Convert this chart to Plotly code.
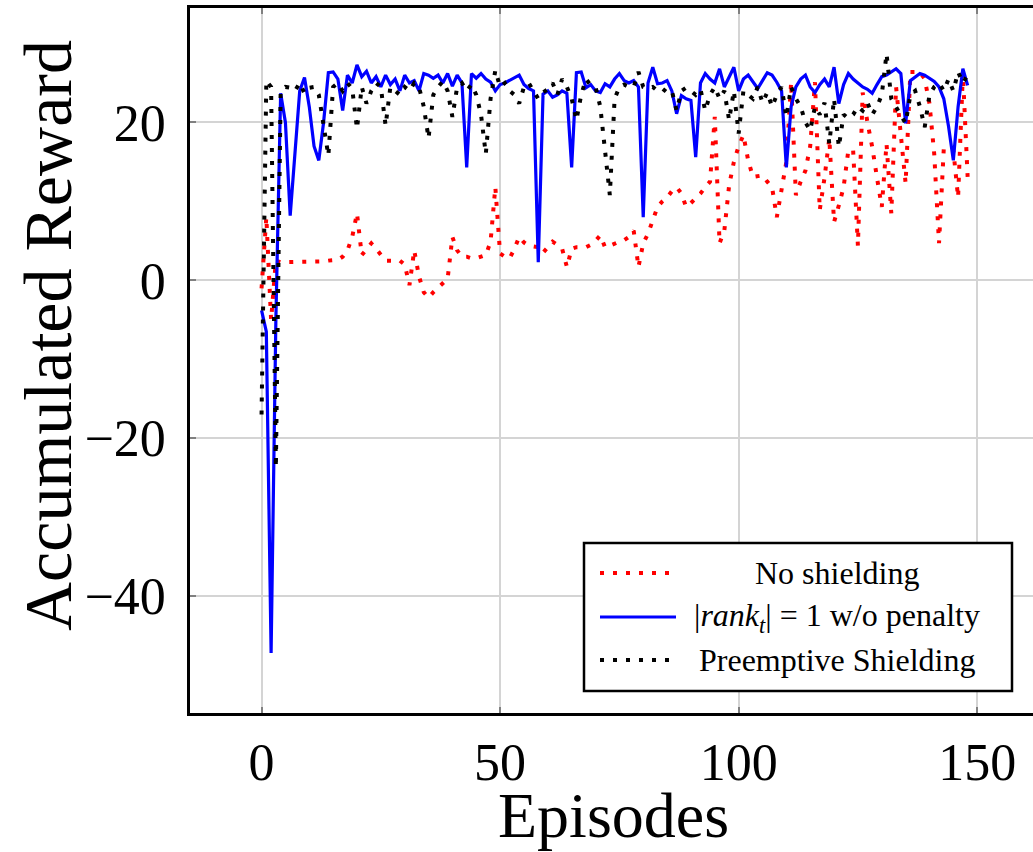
import plotly.graph_objects as go

episodes = list(range(149))

no_shielding = [
    -1.0, 8.0, -5.0, 2.5, 2.3, 2.3, 2.3, 2.3, 2.3, 2.4,
    2.3, 2.4, 2.3, 2.4, 2.5, 2.6, 2.6, 3.0, 3.8, 5.5,
    8.5, 3.2, 4.0, 4.7, 4.0, 3.2, 2.5, 2.5, 2.5, 2.5,
    2.0, -0.6, 3.8, 0.5, -1.5, -2.2, -1.5, -0.9, -0.3, 0.2,
    5.5, 3.8, 3.0, 3.0, 2.8, 2.8, 3.0, 3.2, 4.9, 11.8,
    3.4, 3.0, 2.8, 4.0, 5.5, 4.8, 4.4, 4.3, 4.2, 3.5,
    4.2, 4.9, 4.5, 4.0, 1.7, 4.0, 4.2, 4.2, 4.2, 4.5,
    5.0, 5.7, 4.2, 4.4, 4.7, 4.9, 5.1, 5.5, 6.3, 1.7,
    4.7, 5.9, 7.6, 9.3, 10.0, 10.5, 11.3, 11.8, 11.0, 9.3,
    9.8, 10.4, 11.0, 11.8, 12.5, 20.7, 4.7, 6.3, 12.0, 15.0,
    17.0, 18.4, 15.2, 13.1, 13.2, 13.3, 12.5, 11.8, 8.0, 11.4,
    15.0, 25.1, 10.8, 12.5, 13.9, 17.0, 25.1, 8.9, 13.0, 18.0,
    7.4, 9.5, 11.8, 16.5, 16.5, 4.4, 23.8, 20.0, 16.9, 13.0,
    9.3, 17.3, 8.5, 24.5, 18.0, 12.3, 26.4, 26.4, 26.4, 25.5,
    22.4, 16.0, 4.7, 16.7, 16.5, 16.5, 10.5, 26.2, 13.1,
]

rank_no_penalty = [
    -3.8, -6.5, -47.2, -5.0, 23.7, 20.0, 8.2, 16.0, 24.0, 25.7,
    22.0, 17.0, 15.2, 20.0, 26.3, 26.4, 25.5, 21.5, 26.0, 25.0,
    27.3, 25.8, 26.5, 25.0, 25.8, 24.5, 26.0, 24.8, 25.5, 24.0,
    26.0, 25.0, 25.3, 24.0, 26.2, 26.0, 25.6, 26.0, 25.0, 26.2,
    24.6, 26.0, 25.0, 14.3, 26.2, 25.6, 26.2, 25.5, 25.1, 24.0,
    24.8, 25.0, 25.3, 25.7, 26.0, 24.8, 24.3, 24.0, 2.3, 23.6,
    24.0, 23.2, 23.5, 24.0, 23.7, 14.3, 26.3, 26.4, 24.4, 24.8,
    24.0, 23.8, 24.9, 24.5, 25.5, 26.2, 25.3, 25.0, 25.3, 24.5,
    8.0, 25.0, 27.0, 24.9, 25.0, 25.3, 24.0, 21.1, 23.4, 23.0,
    22.8, 15.6, 25.0, 26.2, 25.5, 25.0, 26.8, 24.5, 25.8, 27.0,
    24.0, 25.5, 26.0, 25.2, 24.3, 25.3, 26.3, 26.0, 25.1, 24.0,
    14.3, 22.0, 24.5, 25.5, 26.0, 24.5, 23.8, 24.8, 25.5, 24.5,
    27.0, 22.4, 24.8, 26.2, 25.5, 25.0, 24.5, 24.2, 23.7, 24.8,
    25.8, 26.0, 26.4, 26.8, 26.2, 19.9, 25.3, 25.8, 26.2, 26.0,
    25.6, 25.2, 24.5, 23.0, 19.5, 15.2, 22.0, 26.8, 24.7,
]

preemptive = [
    -17.0, 25.3, 24.5, -23.7, 24.0, 24.5, 24.4, 24.0, 25.0, 23.7,
    24.4, 24.5, 23.5, 20.0, 15.8, 24.5, 25.0, 24.0, 25.0, 24.3,
    19.2, 24.5, 22.4, 24.0, 25.0, 24.5, 19.6, 24.5, 24.0, 23.5,
    24.5, 24.0, 25.0, 24.5, 22.0, 18.0, 23.5, 24.5, 25.2, 24.0,
    20.7, 24.5, 25.0, 24.0, 24.8, 23.5, 21.0, 16.0, 23.0, 26.6,
    24.5, 25.0, 24.0, 23.5, 22.4, 24.5, 25.0, 24.0, 23.0, 23.8,
    24.2, 25.0, 23.5, 25.5, 24.5, 23.0, 20.3, 23.5, 25.5, 24.7,
    24.5, 22.0, 16.0, 10.8, 23.0, 24.5, 24.8, 24.5, 24.5, 26.4,
    24.5, 24.3, 24.5, 24.0, 24.3, 23.8, 24.0, 21.5, 24.0, 24.4,
    24.0, 23.5, 24.2, 21.5, 23.5, 24.5, 23.0, 24.0, 20.3, 24.0,
    18.6, 24.0, 23.5, 23.0, 24.5, 22.5, 23.8, 22.0, 23.5, 24.5,
    20.7, 24.5, 23.0, 22.0, 20.0, 19.0, 22.0, 21.0, 22.5, 17.3,
    23.0, 16.9, 21.0, 20.5, 21.0, 22.0, 21.5, 22.5, 21.0, 22.0,
    23.5, 28.7, 23.0, 22.0, 21.0, 19.9, 23.5, 24.0, 22.0, 19.4,
    23.5, 24.5, 25.0, 24.0, 25.5, 24.0, 26.4, 25.0, 26.0,
]

series_names = ["No shielding",
                "|<i>rank</i><sub><i>t</i></sub>| = 1 w/o penalty",
                "Preemptive Shielding"]
x_ticks = [0, 50, 100, 150]
y_ticks = [-40, -20, 0, 20]

FONT = "Liberation Serif, Times New Roman, serif"
DOT = "4px,9px"

fig = go.Figure()
fig.add_trace(go.Scatter(x=episodes, y=no_shielding, mode="lines",
                         line=dict(color="#ff0000", width=4, dash=DOT),
                         showlegend=False))
fig.add_trace(go.Scatter(x=episodes, y=rank_no_penalty, mode="lines",
                         line=dict(color="#0000ff", width=3.2),
                         showlegend=False))
fig.add_trace(go.Scatter(x=episodes, y=preemptive, mode="lines",
                         line=dict(color="#000000", width=4, dash=DOT),
                         showlegend=False))

W, H = 1033, 852
L, T, B = 190, 8, 139
pw, ph = W - L, H - T - B


def px(xp):
    return (xp - L) / pw


def py(yp):
    return (H - B - yp) / ph


# custom legend (centered text like the original)
shapes = [dict(type="rect", xref="paper", yref="paper",
               x0=px(584), x1=px(1012), y0=py(691), y1=py(543),
               line=dict(color="black", width=2.5), fillcolor="white", layer="above")]
rows = [573, 617, 660]
styles = [dict(color="#ff0000", width=4, dash=DOT),
          dict(color="#0000ff", width=3),
          dict(color="#000000", width=4, dash=DOT)]
annotations = []
for r, st, name in zip(rows, styles, series_names):
    shapes.append(dict(type="line", xref="paper", yref="paper",
                       x0=px(600), x1=px(676), y0=py(r), y1=py(r),
                       line=st, layer="above"))
    annotations.append(dict(xref="paper", yref="paper", x=px(837), y=py(r),
                            text=name, showarrow=False, xanchor="center",
                            yanchor="middle",
                            font=dict(family=FONT, size=32, color="black")))

annotations.append(dict(xref="paper", yref="paper", x=px(613), y=py(816),
                        text="Episodes", showarrow=False, xanchor="center",
                        yanchor="middle",
                        font=dict(family=FONT, size=64, color="black")))
annotations.append(dict(xref="paper", yref="paper", x=px(48), y=py(336),
                        text="Accumulated Reward", showarrow=False,
                        textangle=-90, xanchor="center", yanchor="middle",
                        font=dict(family=FONT, size=68, color="black")))

fig.update_layout(
    width=W, height=H,
    margin=dict(l=L, r=0, t=T, b=B, pad=0),
    paper_bgcolor="white", plot_bgcolor="white",
    font=dict(family=FONT, size=52, color="black"),
    shapes=shapes, annotations=annotations,
    showlegend=False,
)
fig.update_xaxes(range=[-15.0, 161.7], tickvals=x_ticks,
                 showgrid=True, gridcolor="#d4d4d4", gridwidth=1.5,
                 zeroline=False, showline=True, linecolor="black", linewidth=2.5,
                 mirror="ticks", ticks="inside", ticklen=6, tickcolor="#808080",
                 tickwidth=1.5, tickfont=dict(family=FONT, size=52),
                 ticklabelstandoff=2)
fig.update_yaxes(range=[-54.8, 34.5], tickvals=y_ticks,
                 showgrid=True, gridcolor="#d4d4d4", gridwidth=1.5,
                 zeroline=False, showline=True, linecolor="black", linewidth=2.5,
                 mirror=False, ticks="inside", ticklen=6, tickcolor="#808080",
                 tickwidth=1.5, tickfont=dict(family=FONT, size=52),
                 ticklabelstandoff=11)

fig.write_html("out.html")
